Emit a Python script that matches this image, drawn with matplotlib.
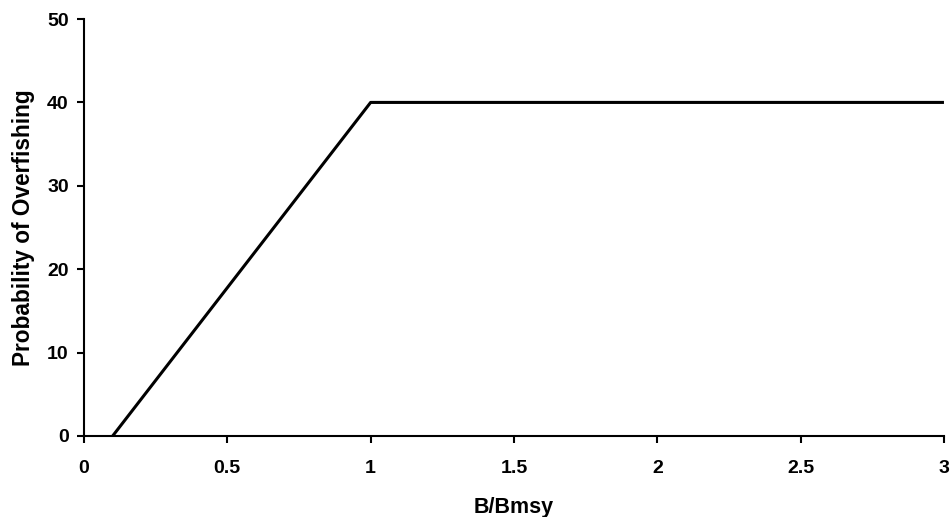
import matplotlib
matplotlib.use("Agg")
import matplotlib.pyplot as plt

# Harvest control rule: probability of overfishing vs B/Bmsy
b_ratio = [0.1, 1.0, 3.0]
p_overfishing = [0, 40, 40]

x_ticks = [0, 0.5, 1, 1.5, 2, 2.5, 3]
x_tick_labels = ["0", "0.5", "1", "1.5", "2", "2.5", "3"]
y_ticks = [0, 10, 20, 30, 40, 50]

plt.rcParams["font.family"] = ["Liberation Sans", "DejaVu Sans"]
plt.rcParams["font.weight"] = "bold"

fig = plt.figure(figsize=(9.51, 5.17), dpi=100)
ax = fig.add_axes([0.0883, 0.1567, 0.9043, 0.8065])

ax.plot(b_ratio, p_overfishing, color="black", linewidth=2.2, solid_capstyle="butt")

ax.set_xlim(0, 3)
ax.set_ylim(0, 50)
ax.set_xticks(x_ticks)
ax.set_xticklabels(x_tick_labels)
ax.set_yticks(y_ticks)

for side in ["top", "right"]:
    ax.spines[side].set_visible(False)
for side in ["left", "bottom"]:
    ax.spines[side].set_linewidth(1.5)

ax.tick_params(direction="out", length=5, width=1.5, labelsize=14)
ax.tick_params(axis="y", pad=6)
ax.tick_params(axis="x", pad=12)

ax.set_xlabel("B/Bmsy", fontsize=15.5, fontweight="bold", labelpad=15)
ax.set_ylabel("Probability of Overfishing", fontsize=16.3, fontweight="bold", labelpad=9)

fig.savefig("out.png", dpi=100)
